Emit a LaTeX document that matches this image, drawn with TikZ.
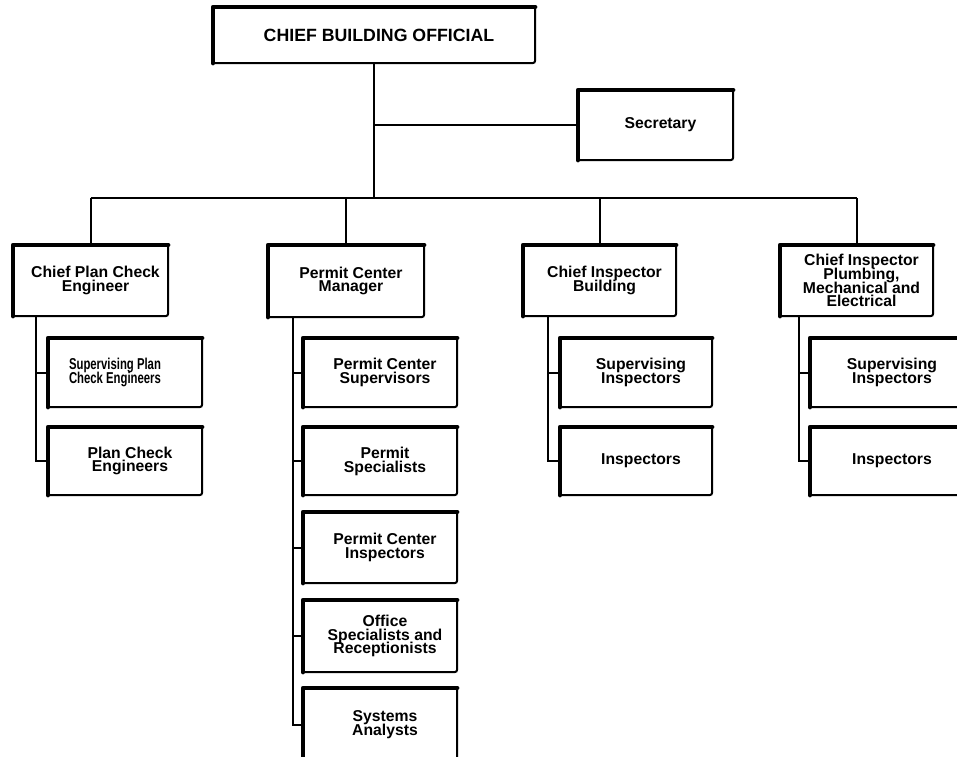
\documentclass[tikz,border=0pt]{standalone}
\usepackage{fontspec}
\usepackage{graphicx}
\setmainfont{Liberation Sans}
\newcommand\lns[2][10.4pt]{\vbox{\baselineskip=#1\lineskiplimit=-\maxdimen\let\\\cr\halign{\hfil##\hfil\cr#2\crcr}}}
\tikzset{
  orgbox/.style={draw, line width=1.5pt, rounded corners=1.5pt, outer sep=0pt, inner sep=0pt, fill=white,
    font=\fontsize{11.8pt}{10.4pt}\selectfont\bfseries},
  edgeline/.style={line width=3.6pt, line join=round, line cap=round},
  conn/.style={line width=1.5pt},
}
% #1 text shift (pt, doubled), #2 name, #3 x1, #4 y1, #5 x2, #6 y2, #7 text
\newcommand\orgnode[7][7.5]{%
  \node[orgbox, minimum width={(#5-#3)*0.75pt}, minimum height={(#6-#4)*0.75pt}] (#2)
    at ({(#3+#5)/2},{(#4+#6)/2}) {\hspace*{#1pt}#7};
  \draw[edgeline] (#2.south west) -- (#2.north west) -- (#2.north east);
}
\begin{document}
\begin{tikzpicture}[x=0.75pt,y=-0.75pt]
\useasboundingbox (0,0) rectangle (957,757);
\clip (0,0) rectangle (957,757);
\fill[white] (0,0) rectangle (957,757);

% top
\orgnode{cbo}{213}{7}{535}{63}{\fontsize{13.3pt}{12pt}\selectfont CHIEF BUILDING OFFICIAL}
\orgnode{sec}{578}{90}{733}{160}{Secretary}

% managers
\orgnode{cpe}{13}{245}{168}{316}{\lns{Chief Plan Check\\Engineer}}
\orgnode{pcm}{268}{245}{424}{317}{\lns{Permit Center\\Manager}}
\orgnode{cib}{523}{245}{676}{316}{\lns{Chief Inspector\\Building}}
\orgnode{cip}{780}{245}{933}{316}{\lns{Chief Inspector\\Plumbing,\\Mechanical and\\Electrical}}

% column 1
\orgnode[-15]{spce}{48}{338}{202}{407}{\scalebox{0.72}[1]{\lns[10.8pt]{Supervising Plan\\Check Engineers}}}
\orgnode{pce}{48}{427}{202}{495}{\lns{Plan Check\\Engineers}}
% column 2
\orgnode{pcs}{303}{338}{457}{407}{\lns{Permit Center\\Supervisors}}
\orgnode{psp}{303}{427}{457}{495}{\lns{Permit\\Specialists}}
\orgnode{pci}{303}{512}{457}{583}{\lns{Permit Center\\Inspectors}}
\orgnode{osr}{303}{600}{457}{672}{\lns{Office\\Specialists and\\Receptionists}}
\orgnode{sya}{303}{688}{457}{762}{\lns{Systems\\Analysts}}
% column 3
\orgnode{sib}{560}{338}{712}{407}{\lns{Supervising\\Inspectors}}
\orgnode{inb}{560}{427}{712}{495}{Inspectors}
% column 4
\orgnode{sip}{810}{338}{964}{407}{\lns{Supervising\\Inspectors}}
\orgnode{inp}{810}{427}{964}{495}{Inspectors}

% connectors
\coordinate (bus) at (0,198);
\draw[conn] (cbo.south) -- (cbo.south |- bus);
\draw[conn] (sec.west) -- (sec.west -| cbo.south);
\draw[conn] (cpe.north |- bus) -- (cip.north |- bus);
\draw[conn] (cpe.north) -- (cpe.north |- bus);
\draw[conn] (pcm.north) -- (pcm.north |- bus);
\draw[conn] (cib.north) -- (cib.north |- bus);
\draw[conn] (cip.north) -- (cip.north |- bus);

\coordinate (k1) at ([xshift=17.25pt]cpe.south west);
\coordinate (k2) at ([xshift=18.75pt]pcm.south west);
\coordinate (k3) at ([xshift=18.75pt]cib.south west);
\coordinate (k4) at ([xshift=14.25pt]cip.south west);

\draw[conn] (k1) |- (pce.west);
\draw[conn] (spce.west) -- (spce.west -| k1);

\draw[conn] (k2) |- (sya.west);
\draw[conn] (pcs.west) -- (pcs.west -| k2);
\draw[conn] (psp.west) -- (psp.west -| k2);
\draw[conn] (pci.west) -- (pci.west -| k2);
\draw[conn] (osr.west) -- (osr.west -| k2);

\draw[conn] (k3) |- (inb.west);
\draw[conn] (sib.west) -- (sib.west -| k3);

\draw[conn] (k4) |- (inp.west);
\draw[conn] (sip.west) -- (sip.west -| k4);
\end{tikzpicture}
\end{document}
